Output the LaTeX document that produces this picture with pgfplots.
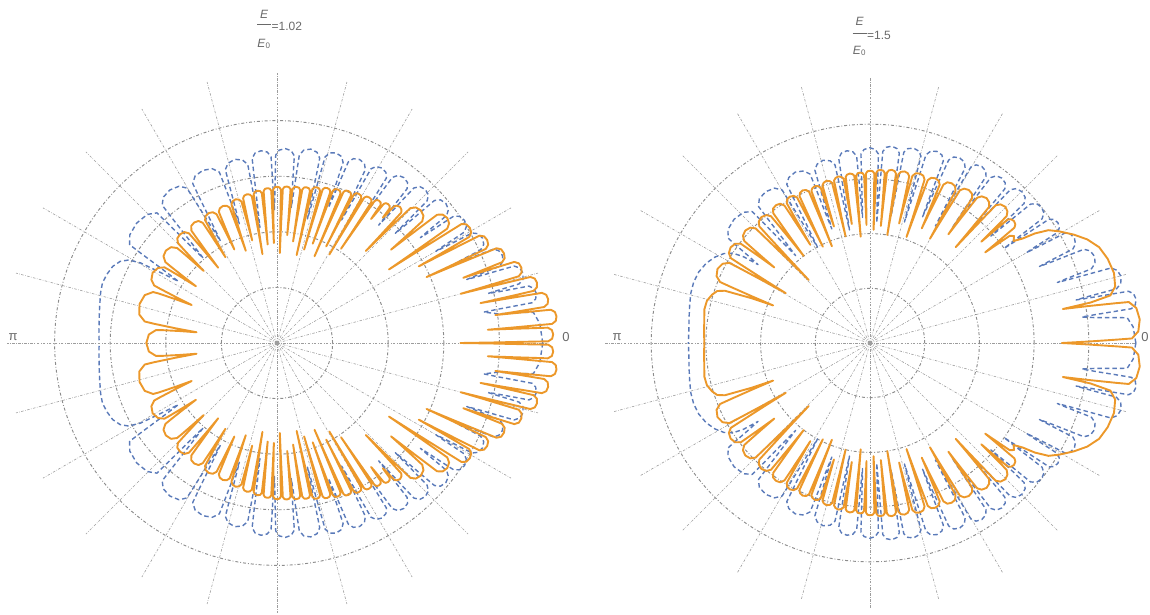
\documentclass[border=0pt]{standalone}
\usepackage{pgfplots}
\pgfplotsset{compat=1.18}
\usepackage{pgfplotstable}
\usepgfplotslibrary{polar}
\usepackage{fontspec}
\setmainfont{Liberation Sans}

\definecolor{mblue}{RGB}{90,122,185}
\definecolor{morange}{RGB}{236,152,42}
\definecolor{lblgray}{RGB}{105,105,105}
\definecolor{gridgray}{RGB}{140,140,140}

% upper halves (0..180 deg) of the four curves: angle [deg], radius
\pgfplotstableread{
t r
0 3.30
0.14 3.88
0.29 4.48
0.36 4.88
0.90 4.95
1.80 4.97
2.70 4.95
3.24 4.88
3.31 4.63
3.46 4.21
3.60 3.80
3.75 4.24
3.90 4.69
3.97 4.96
4.53 5.03
5.45 5.05
6.38 5.03
6.93 4.96
7.00 4.73
7.15 4.34
7.30 3.96
7.45 4.30
7.60 4.65
7.68 4.85
8.25 4.92
9.20 4.94
10.15 4.92
10.72 4.85
10.80 4.58
10.95 4.15
11.10 3.73
11.26 4.10
11.41 4.49
11.49 4.71
12.08 4.78
13.05 4.80
14.03 4.78
14.61 4.71
14.69 4.40
14.84 3.90
15.00 3.42
15.17 3.83
15.34 4.25
15.43 4.51
16.08 4.58
17.15 4.60
18.23 4.58
18.87 4.51
18.96 4.29
19.13 3.92
19.30 3.55
19.48 3.84
19.66 4.14
19.75 4.30
20.43 4.37
21.55 4.39
22.68 4.37
23.35 4.30
23.44 3.97
23.62 3.45
23.80 2.94
23.98 3.38
24.17 3.84
24.26 4.12
24.95 4.19
26.10 4.21
27.25 4.19
27.94 4.12
28.03 3.83
28.22 3.36
28.40 2.90
28.60 3.30
28.79 3.71
28.89 3.95
29.63 4.02
30.85 4.04
32.08 4.02
32.81 3.95
32.91 3.56
33.10 2.98
33.30 2.41
33.54 2.90
33.78 3.40
33.90 3.69
34.80 3.77
36.30 3.80
37.80 3.77
38.70 3.69
38.82 3.46
39.06 3.05
39.30 2.65
39.57 2.95
39.84 3.26
39.97 3.41
40.98 3.49
42.65 3.52
44.33 3.49
45.33 3.41
45.46 3.16
45.73 2.73
46.00 2.30
46.15 2.65
46.30 3.01
46.38 3.24
46.95 3.28
47.90 3.30
48.85 3.28
49.42 3.24
49.65 3.02
49.80 2.95
49.92 3.02
50.10 3.155
50.55 3.19
51.30 3.20
52.05 3.19
52.50 3.155
52.68 2.88
52.80 2.80
52.92 2.88
53.10 3.10
53.55 3.14
54.30 3.15
55.05 3.14
55.50 3.10
55.56 2.83
55.68 2.44
55.80 2.05
55.94 2.42
56.09 2.79
56.16 3.05
56.70 3.09
57.60 3.10
58.50 3.09
59.04 3.05
59.11 2.74
59.26 2.29
59.40 1.85
59.54 2.27
59.69 2.70
59.76 3.01
60.30 3.05
61.20 3.06
62.10 3.05
62.64 3.01
62.71 2.74
62.86 2.34
63.00 1.95
63.14 2.32
63.29 2.71
63.36 2.97
63.90 3.01
64.80 3.02
65.70 3.01
66.24 2.97
66.31 2.63
66.46 2.16
66.60 1.70
66.74 2.14
66.89 2.60
66.96 2.92
67.50 2.96
68.40 2.97
69.30 2.96
69.84 2.92
69.91 2.66
70.06 2.27
70.20 1.90
70.34 2.26
70.49 2.63
70.56 2.88
71.10 2.92
72.00 2.93
72.90 2.92
73.44 2.88
73.51 2.58
73.66 2.16
73.80 1.75
73.94 2.15
74.09 2.56
74.16 2.84
74.70 2.88
75.60 2.89
76.50 2.88
77.04 2.84
77.11 2.52
77.26 2.06
77.40 1.62
77.54 2.05
77.69 2.49
77.76 2.80
78.30 2.84
79.20 2.85
80.10 2.84
80.64 2.80
80.71 2.56
80.86 2.20
81.00 1.85
81.14 2.19
81.29 2.54
81.36 2.78
81.90 2.82
82.80 2.83
83.70 2.82
84.24 2.78
84.31 2.57
84.46 2.26
84.60 1.95
84.74 2.25
84.89 2.56
84.96 2.77
85.50 2.81
86.40 2.82
87.30 2.81
87.84 2.77
87.91 2.47
88.06 2.04
88.20 1.62
88.34 2.04
88.49 2.46
88.56 2.76
89.10 2.80
90.00 2.81
90.90 2.80
91.44 2.76
91.51 2.51
91.66 2.15
91.80 1.80
91.94 2.15
92.09 2.50
92.16 2.74
92.70 2.78
93.60 2.79
94.50 2.78
95.04 2.74
95.11 2.49
95.26 2.13
95.40 1.78
95.56 2.12
95.71 2.47
95.79 2.71
96.38 2.75
97.35 2.76
98.33 2.75
98.91 2.71
98.99 2.43
99.14 2.02
99.30 1.62
99.47 2.01
99.64 2.41
99.73 2.675
100.38 2.715
101.45 2.73
102.53 2.715
103.17 2.675
103.26 2.49
103.43 2.19
103.60 1.90
103.80 2.18
104.01 2.46
104.11 2.625
104.88 2.67
106.15 2.69
107.43 2.67
108.19 2.625
108.29 2.42
108.50 2.08
108.70 1.75
108.93 2.07
109.16 2.39
109.28 2.58
110.15 2.63
111.60 2.65
113.05 2.63
113.92 2.58
114.04 2.42
114.27 2.13
114.50 1.85
114.76 2.13
115.02 2.41
115.15 2.56
116.13 2.62
117.75 2.64
119.38 2.62
120.35 2.56
120.48 2.39
120.74 2.09
121.00 1.80
121.28 2.09
121.56 2.39
121.70 2.54
122.75 2.61
124.50 2.63
126.25 2.61
127.30 2.54
127.44 2.36
127.72 2.04
128.00 1.72
128.30 2.04
128.60 2.36
128.75 2.53
129.88 2.60
131.75 2.62
133.63 2.60
134.75 2.53
134.90 2.40
135.20 2.12
135.50 1.85
135.88 2.11
136.26 2.38
136.45 2.48
137.88 2.57
140.25 2.60
142.63 2.57
144.05 2.48
144.24 2.36
144.62 2.07
145.00 1.78
145.44 2.06
145.88 2.34
146.10 2.44
147.75 2.53
150.50 2.57
153.25 2.53
154.90 2.44
155.12 2.31
155.56 1.99
156.00 1.68
156.66 1.99
157.31 2.31
157.64 2.41
160.10 2.53
164.20 2.57
168.30 2.53
170.76 2.41
171.09 2.25
171.74 1.85
172.40 1.46
173.01 1.77
173.62 2.09
173.92 2.19
176.20 2.31
180.00 2.35
}\orangeA

\pgfplotstableread{
t r
0 4.78
4.25 4.74
6.80 4.645
7.14 4.44
7.48 4.02
8.50 3.76
8.69 4.01
8.88 4.42
8.97 4.645
9.68 4.72
10.85 4.75
12.03 4.72
12.73 4.645
12.82 4.46
13.01 4.11
13.20 3.90
13.41 4.08
13.62 4.37
13.73 4.485
14.53 4.57
15.85 4.60
17.18 4.57
17.97 4.485
18.08 4.26
18.29 3.85
18.50 3.60
18.72 3.79
18.94 4.10
19.05 4.24
19.88 4.32
21.25 4.35
22.63 4.32
23.45 4.24
23.56 4.06
23.78 3.71
24.00 3.50
24.24 3.66
24.48 3.93
24.60 4.03
25.50 4.12
27.00 4.15
28.50 4.12
29.40 4.03
29.52 3.86
29.76 3.51
30.00 3.30
30.25 3.48
30.50 3.78
30.63 3.91
31.58 4.00
33.15 4.03
34.73 4.00
35.67 3.91
35.80 3.75
36.05 3.41
36.30 3.20
36.56 3.39
36.82 3.69
36.95 3.82
37.93 3.91
39.55 3.94
41.18 3.91
42.15 3.82
42.28 3.59
42.54 3.16
42.80 2.90
43.06 3.14
43.31 3.53
43.44 3.72
44.40 3.81
46.00 3.84
47.60 3.81
48.56 3.72
48.69 3.49
48.94 3.06
49.20 2.80
49.46 3.04
49.73 3.43
49.86 3.63
50.85 3.72
52.50 3.75
54.15 3.72
55.14 3.63
55.27 3.36
55.54 2.89
55.80 2.60
56.06 2.87
56.32 3.31
56.45 3.56
57.43 3.64
59.05 3.67
60.68 3.64
61.65 3.56
61.78 3.27
62.04 2.79
62.30 2.50
62.58 2.78
62.85 3.24
62.99 3.50
64.03 3.59
65.75 3.62
67.48 3.59
68.51 3.50
68.65 3.28
68.92 2.86
69.20 2.60
69.48 2.85
69.76 3.25
69.90 3.46
70.95 3.55
72.70 3.58
74.45 3.55
75.50 3.46
75.64 3.15
75.92 2.62
76.20 2.30
76.51 2.61
76.82 3.12
76.98 3.41
78.15 3.505
80.10 3.54
82.05 3.505
83.22 3.41
83.38 3.17
83.69 2.72
84.00 2.45
84.28 2.71
84.57 3.14
84.71 3.38
85.78 3.47
87.55 3.50
89.33 3.47
90.39 3.38
90.53 3.13
90.82 2.68
91.10 2.40
91.39 2.67
91.68 3.11
91.83 3.35
92.93 3.44
94.75 3.47
96.58 3.44
97.67 3.35
97.82 3.01
98.11 2.44
98.40 2.10
98.76 2.42
99.13 2.95
99.31 3.255
100.68 3.35
102.95 3.39
105.23 3.35
106.59 3.255
106.77 3.01
107.14 2.54
107.50 2.25
107.96 2.53
108.42 3.00
108.65 3.245
110.38 3.345
113.25 3.38
116.13 3.345
117.85 3.245
118.08 2.95
118.54 2.42
119.00 2.10
119.48 2.42
119.96 2.94
120.20 3.225
122.00 3.325
125.00 3.36
128.00 3.325
129.80 3.225
130.04 2.91
130.52 2.36
131.00 2.02
131.68 2.35
132.36 2.88
132.70 3.185
135.25 3.285
139.50 3.32
143.75 3.285
146.30 3.185
146.64 2.91
147.32 2.40
148.00 2.09
148.70 2.40
149.60 2.85
150.80 3.06
152.50 3.18
155.00 3.26
158.00 3.30
161.00 3.32
164.00 3.30
168.00 3.26
172.00 3.23
176.00 3.21
180.00 3.20
}\blueA

\pgfplotstableread{
t r
0 3.51
0.40 4.01
0.80 4.53
1.00 4.79
2.50 4.91
5.00 4.95
7.50 4.91
9.00 4.79
9.20 4.55
9.60 4.06
10.00 3.58
10.40 4.10
11.20 4.48
13.00 4.60
16.00 4.64
19.50 4.61
22.70 4.54
25.50 4.40
28.00 4.22
30.50 4.02
32.30 3.86
33.60 3.62
34.40 3.38
35.40 3.22
36.60 3.28
37.50 3.22
38.20 2.68
38.36 2.95
38.53 3.23
38.61 3.38
39.23 3.43
40.25 3.45
41.28 3.43
41.89 3.38
41.97 3.25
42.14 3.00
42.30 2.75
42.54 3.02
42.77 3.29
42.89 3.41
43.78 3.48
45.25 3.51
46.73 3.48
47.61 3.41
47.73 3.17
47.96 2.76
48.20 2.35
48.44 2.72
48.68 3.09
48.80 3.30
49.70 3.37
51.20 3.40
52.70 3.37
53.60 3.30
53.72 3.12
53.96 2.78
54.20 2.45
54.44 2.76
54.67 3.07
54.79 3.24
55.68 3.305
57.15 3.33
58.63 3.305
59.51 3.24
59.63 3.00
59.86 2.60
60.10 2.20
60.32 2.58
60.55 2.97
60.66 3.19
61.50 3.26
62.90 3.28
64.30 3.26
65.14 3.19
65.25 2.99
65.48 2.64
65.70 2.30
65.91 2.63
66.12 2.97
66.23 3.16
67.03 3.22
68.35 3.24
69.68 3.22
70.47 3.16
70.58 2.89
70.79 2.47
71.00 2.05
71.21 2.46
71.42 2.88
71.53 3.15
72.33 3.21
73.65 3.23
74.98 3.21
75.77 3.15
75.88 2.94
76.09 2.59
76.30 2.25
76.48 2.58
76.67 2.92
76.76 3.13
77.45 3.18
78.60 3.20
79.75 3.18
80.44 3.13
80.53 2.85
80.72 2.42
80.90 2.00
81.05 2.42
81.20 2.84
81.28 3.13
81.85 3.175
82.80 3.19
83.75 3.175
84.32 3.13
84.40 2.88
84.55 2.51
84.70 2.15
84.84 2.51
84.98 2.87
85.05 3.12
85.58 3.16
86.45 3.17
87.33 3.16
87.85 3.12
87.92 2.85
88.06 2.46
88.20 2.07
88.34 2.45
88.48 2.84
88.55 3.10
89.08 3.14
89.95 3.15
90.83 3.14
91.35 3.10
91.42 2.86
91.56 2.51
91.70 2.16
91.83 2.50
91.96 2.84
92.03 3.07
92.53 3.11
93.35 3.12
94.18 3.11
94.67 3.07
94.74 2.78
94.87 2.36
95.00 1.95
95.15 2.36
95.30 2.78
95.37 3.07
95.93 3.105
96.85 3.12
97.78 3.105
98.33 3.07
98.40 2.85
98.55 2.52
98.70 2.20
98.87 2.52
99.04 2.84
99.12 3.04
99.75 3.08
100.80 3.10
101.85 3.08
102.48 3.04
102.56 2.78
102.73 2.39
102.90 2.00
103.07 2.37
103.24 2.76
103.33 3.01
103.98 3.05
105.05 3.07
106.13 3.05
106.77 3.01
106.86 2.82
107.03 2.52
107.20 2.23
107.37 2.51
107.54 2.80
107.63 2.98
108.28 3.02
109.35 3.04
110.43 3.02
111.07 2.98
111.16 2.71
111.33 2.30
111.50 1.90
111.68 2.30
111.87 2.71
111.96 2.98
112.65 3.03
113.80 3.05
114.95 3.03
115.64 2.98
115.73 2.73
115.92 2.34
116.10 1.96
116.31 2.34
116.52 2.73
116.62 2.975
117.40 3.03
118.70 3.05
120.00 3.03
120.78 2.975
120.88 2.77
121.09 2.43
121.30 2.10
121.54 2.43
121.78 2.77
121.90 2.96
122.80 3.03
124.30 3.05
125.80 3.03
126.70 2.96
126.82 2.74
127.06 2.37
127.30 2.00
127.58 2.36
127.85 2.73
127.99 2.94
129.03 3.01
130.75 3.04
132.48 3.01
133.51 2.94
133.65 2.62
133.92 2.11
134.20 1.61
134.50 2.12
134.80 2.64
134.95 2.96
136.08 3.04
137.95 3.07
139.83 3.04
140.95 2.96
141.10 2.82
141.40 2.52
141.70 2.23
142.01 2.53
142.32 2.84
142.47 2.98
143.63 3.06
145.55 3.09
147.48 3.06
148.63 2.98
148.78 2.71
149.09 2.25
149.40 1.79
149.78 2.25
150.15 2.72
150.34 2.96
151.75 3.06
154.10 3.10
156.45 3.06
157.86 2.96
158.05 2.75
158.42 2.32
158.80 1.90
159.30 2.32
160.20 2.82
161.20 2.95
163.00 3.02
165.50 3.08
168.50 3.09
172.00 3.06
176.00 3.04
180.00 3.03
}\orangeB

\pgfplotstableread{
t r
0 4.86
3.50 4.82
5.60 4.725
5.88 4.54
6.44 4.14
7.00 3.90
7.19 4.16
7.38 4.58
7.48 4.82
8.20 4.90
9.40 4.93
10.60 4.90
11.32 4.82
11.42 4.57
11.61 4.12
11.80 3.85
12.04 4.08
12.29 4.45
12.41 4.615
13.33 4.71
14.85 4.75
16.38 4.71
17.29 4.615
17.41 4.36
17.66 3.89
17.90 3.60
18.16 3.80
18.41 4.13
18.54 4.27
19.50 4.365
21.10 4.40
22.70 4.365
23.66 4.27
23.79 4.06
24.04 3.65
24.30 3.40
24.53 3.60
24.76 3.93
24.87 4.09
25.73 4.17
27.15 4.20
28.58 4.17
29.43 4.09
29.54 3.90
29.77 3.53
30.00 3.30
30.21 3.50
30.42 3.82
30.52 3.98
31.30 4.05
32.60 4.08
33.90 4.05
34.68 3.98
34.78 3.72
34.99 3.27
35.20 3.00
35.45 3.25
35.70 3.66
35.83 3.88
36.78 3.97
38.35 4.00
39.93 3.97
40.87 3.88
41.00 3.64
41.25 3.21
41.50 2.95
41.77 3.19
42.04 3.59
42.17 3.80
43.18 3.89
44.85 3.92
46.53 3.89
47.53 3.80
47.66 3.51
47.93 3.01
48.20 2.70
48.45 2.99
48.70 3.47
48.83 3.745
49.78 3.83
51.35 3.86
52.93 3.83
53.87 3.745
54.00 3.44
54.25 2.92
54.50 2.60
54.75 2.91
55.00 3.41
55.13 3.71
56.08 3.79
57.65 3.82
59.23 3.79
60.17 3.71
60.30 3.36
60.55 2.79
60.80 2.45
61.06 2.78
61.33 3.32
61.46 3.64
62.45 3.73
64.10 3.76
65.75 3.73
66.74 3.64
66.87 3.34
67.14 2.82
67.40 2.50
67.67 2.80
67.94 3.30
68.07 3.59
69.08 3.68
70.75 3.71
72.43 3.68
73.43 3.59
73.56 3.23
73.83 2.65
74.10 2.30
74.36 2.64
74.62 3.20
74.75 3.54
75.73 3.62
77.35 3.65
78.98 3.62
79.95 3.54
80.08 3.21
80.34 2.68
80.60 2.35
80.85 2.67
81.10 3.19
81.22 3.51
82.15 3.59
83.70 3.62
85.25 3.59
86.18 3.51
86.30 3.14
86.55 2.56
86.80 2.20
87.06 2.54
87.33 3.11
87.46 3.46
88.45 3.54
90.10 3.57
91.75 3.54
92.74 3.46
92.87 3.14
93.14 2.62
93.40 2.30
93.68 2.61
93.95 3.12
94.09 3.425
95.13 3.51
96.85 3.54
98.58 3.51
99.61 3.425
99.75 3.05
100.02 2.46
100.30 2.10
100.63 2.44
100.96 3.00
101.12 3.32
102.35 3.41
104.40 3.45
106.45 3.41
107.68 3.32
107.84 3.03
108.17 2.51
108.50 2.20
108.91 2.50
109.32 3.00
109.52 3.275
111.05 3.37
113.60 3.41
116.15 3.37
117.68 3.275
117.88 2.93
118.29 2.35
118.70 2.00
119.17 2.34
119.64 2.90
119.87 3.225
121.63 3.325
124.55 3.36
127.48 3.325
129.23 3.225
129.46 2.94
129.93 2.42
130.40 2.10
130.98 2.42
131.57 2.94
131.86 3.225
134.05 3.325
137.70 3.36
141.35 3.325
143.54 3.225
143.83 3.07
144.42 2.72
145.00 2.50
145.70 2.80
146.80 3.00
148.50 3.13
151.00 3.24
154.00 3.33
157.50 3.39
161.00 3.41
164.50 3.40
168.00 3.37
172.00 3.34
176.00 3.32
180.00 3.32
}\blueB

\pgfplotsset{
  polargrid/.style={
    scale only axis,
    ymin=0, ymax=4.86,
    clip=false,
    axis line style={draw=none},
    major tick length=0pt,
    xtick={15,30,45,60,75,105,120,135,150,165,195,210,225,240,255,285,300,315,330,345},
    ytick={1,2,3,4},
    xticklabels={}, yticklabels={},
    xmajorgrids, ymajorgrids,
    x grid style={gridgray!85, line width=0.6pt, dash pattern=on 2.5pt off 1.5pt on 0.6pt off 1.5pt},
    y grid style={gridgray, line width=0.95pt, dash pattern=on 3pt off 2pt on 0.8pt off 2pt},
    extra x ticks={0,90,180,270},
    extra x tick labels={},
    extra x tick style={grid=major, major grid style={gridgray!65, line width=0.6pt, dash pattern=on 4pt off 2pt}},
  },
  bluecurve/.style={mblue, line width=1.4pt, dash pattern=on 4.5pt off 3pt, line join=round},
  orangecurve/.style={morange, line width=1.9pt, line join=round, line cap=round},
}

\begin{document}
\begin{tikzpicture}
\path[use as bounding box] (0,0) rectangle (1150pt,614pt);

% E/E0 = 1.02
\begin{polaraxis}[polargrid, at={(277pt,271pt)}, anchor=center,
    width=540.4pt, height=540.4pt]
  \addplot[bluecurve] table {\blueA};
  \addplot[bluecurve] table[x expr=-\thisrowno{0}] {\blueA};
  \addplot[orangecurve] table {\orangeA};
  \addplot[orangecurve] table[x expr=-\thisrowno{0}] {\orangeA};
\end{polaraxis}

% E/E0 = 1.5
\begin{polaraxis}[polargrid, at={(870pt,271pt)}, anchor=center,
    width=531.7pt, height=531.7pt]
  \addplot[bluecurve] table {\blueB};
  \addplot[bluecurve] table[x expr=-\thisrowno{0}] {\blueB};
  \addplot[orangecurve] table {\orangeB};
  \addplot[orangecurve] table[x expr=-\thisrowno{0}] {\orangeB};
\end{polaraxis}

% angle labels
\begin{scope}[every node/.style={text=lblgray, font=\fontsize{13}{15}\selectfont, inner sep=0pt}]
  \node at (13pt,277pt) {π};
  \node at (566pt,277pt) {0};
  \node at (617pt,277pt) {π};
  \node at (1145pt,277pt) {0};
\end{scope}

% panel titles
\begin{scope}[every node/.style={text=lblgray, inner sep=0pt}]
  \node[font=\fontsize{12}{14}\selectfont\itshape] at (264pt,600pt) {E};
  \draw[lblgray, line width=0.6pt] (257pt,589.7pt) -- (271pt,589.7pt);
  \node[font=\fontsize{12}{14}\selectfont] at (264pt,570pt) {\textit{E}\textsubscript{0}};
  \node[anchor=west, font=\fontsize{12}{14}\selectfont] at (271.5pt,587.5pt) {=1.02};

  \node[font=\fontsize{12}{14}\selectfont\itshape] at (859.5pt,592.5pt) {E};
  \draw[lblgray, line width=0.6pt] (852.6pt,580.8pt) -- (866.5pt,580.8pt);
  \node[font=\fontsize{12}{14}\selectfont] at (859.5pt,563pt) {\textit{E}\textsubscript{0}};
  \node[anchor=west, font=\fontsize{12}{14}\selectfont] at (867pt,578.8pt) {=1.5};
\end{scope}
\end{tikzpicture}
\end{document}
